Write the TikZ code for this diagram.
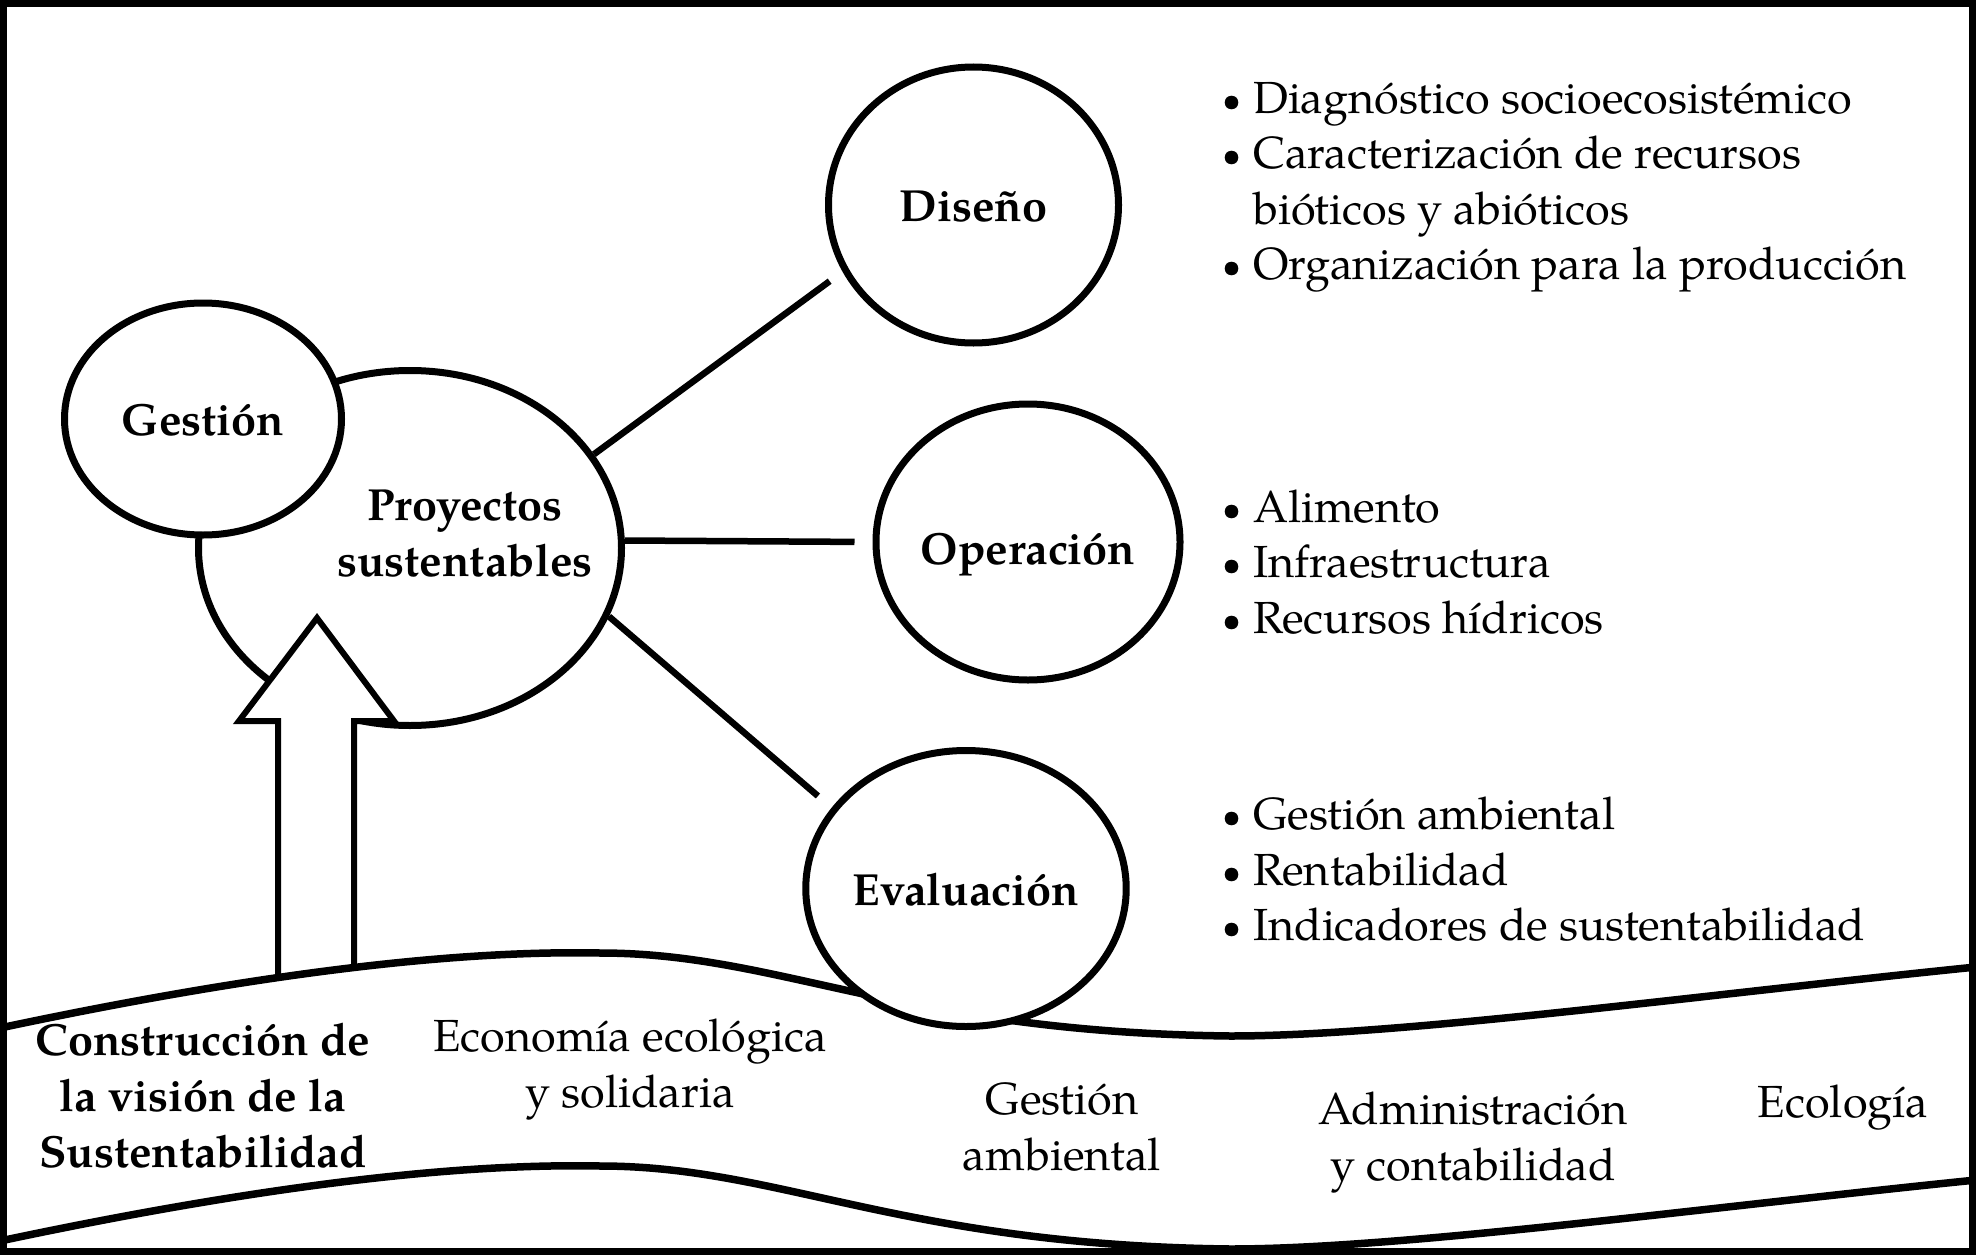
\documentclass[tikz,border=0pt]{standalone}
\usepackage{fontspec}
\setmainfont{TeX Gyre Pagella}
\usetikzlibrary{shapes.geometric}
\begin{document}
\begin{tikzpicture}[x=1pt,y=-1pt,
  txt/.style={font=\fontsize{45}{56}\selectfont, inner sep=0pt},
  txtb/.style={font=\fontsize{45}{56}\selectfont\bfseries, inner sep=0pt},
  bul/.style={font=\fontsize{34}{34}\selectfont, inner sep=0pt, anchor=base},
  bubble/.style={ellipse, draw, line width=7pt, fill=white, minimum width=288pt, minimum height=276pt,
    inner sep=0pt, font=\fontsize{45}{56}\selectfont\bfseries, text height=33pt, text depth=0pt},
  conn/.style={line width=6.5pt},
  wave/.style={line width=7.5pt},
]
\useasboundingbox (0,0) rectangle (1976,1255);

% central project ellipse
\node[ellipse, draw, line width=7pt, minimum width=423pt, minimum height=355pt, inner sep=0pt] (proy) at (410,548) {};

% block arrow
\path[draw, fill=white, line width=6pt] (278,976) -- (278,721) -- (239,721) -- (317,618) -- (394,721) -- (354,721) -- (354,967);

% waves
\draw[wave] (0,1028) .. controls (250,975) and (450,950) .. (600,953)
  .. controls (780,953) and (900,1032) .. (1230,1036)
  .. controls (1400,1036) and (1700,995) .. (1976,967);
\draw[wave, yshift=-213pt] (0,1028) .. controls (250,975) and (450,950) .. (600,953)
  .. controls (780,953) and (900,1032) .. (1230,1036)
  .. controls (1400,1036) and (1700,995) .. (1976,967);

% Gestion ellipse
\node[bubble, minimum width=277pt, minimum height=232pt] (ges) at (203,419) {Gestión};

% three circles
\node[bubble, minimum width=290pt] (dis) at (973.5,205) {Diseño};
\node[bubble, minimum width=286pt, text height=45pt] (ope) at (1028,542) {Operación};
\node[bubble, minimum width=285pt] (eva) at (966,888.5) {Evaluación};

% connectors
\draw[conn, shorten >=16pt] (proy.27) -- (dis.207);
\draw[conn, shorten >=18pt] (proy.2) -- (ope.180);
\draw[conn, shorten >=18pt] (proy.341.6) -- (eva.149.6);

% central label (anchor base = last line)
\node[txtb, align=center, anchor=base] (proytxt) at (465,576) {Proyectos\\sustentables};

% bullet list 1
\node[bul] (b11) at (1232,111) {\textbullet};
\node[txt, anchor=base west] (l11) at (1253,113) {Diagnóstico socioecosistémico};
\node[bul] (b12) at (1232,166) {\textbullet};
\node[txt, anchor=base west] (l12) at (1253,168) {Caracterización de recursos};
\node[txt, anchor=base west] (l13) at (1253,224) {bióticos y abióticos};
\node[bul] (b14) at (1232,277) {\textbullet};
\node[txt, anchor=base west] (l14) at (1253,279) {Organización para la producción};

% bullet list 2
\node[bul] (b21) at (1232,520) {\textbullet};
\node[txt, anchor=base west] (l21) at (1253,522) {Alimento};
\node[bul] (b22) at (1232,575) {\textbullet};
\node[txt, anchor=base west] (l22) at (1253,577) {Infraestructura};
\node[bul] (b23) at (1232,631) {\textbullet};
\node[txt, anchor=base west] (l23) at (1253,633) {Recursos hídricos};

% bullet list 3
\node[bul] (b31) at (1232,827) {\textbullet};
\node[txt, anchor=base west] (l31) at (1253,829) {Gestión ambiental};
\node[bul] (b32) at (1232,883) {\textbullet};
\node[txt, anchor=base west] (l32) at (1253,885) {Rentabilidad};
\node[bul] (b33) at (1232,938) {\textbullet};
\node[txt, anchor=base west] (l33) at (1253,940) {Indicadores de sustentabilidad};

% bottom band labels (anchor base = last line)
\node[txtb, align=center, anchor=base] (cons) at (203,1167) {Construcción de\\la visión de la\\Sustentabilidad};
\node[txt, align=center, anchor=base] (eco) at (630,1107) {Economía ecológica\\y solidaria};
\node[txt, align=center, anchor=base] (gam) at (1062,1170) {Gestión\\ambiental};
\node[txt, align=center, anchor=base] (adm) at (1473,1180) {Administración\\y contabilidad};
\node[txt, anchor=base] (ecol) at (1843,1117) {Ecología};

% frame
\draw[line width=7pt] (3.5,3.5) rectangle (1972.5,1251.5);
\end{tikzpicture}
\end{document}
